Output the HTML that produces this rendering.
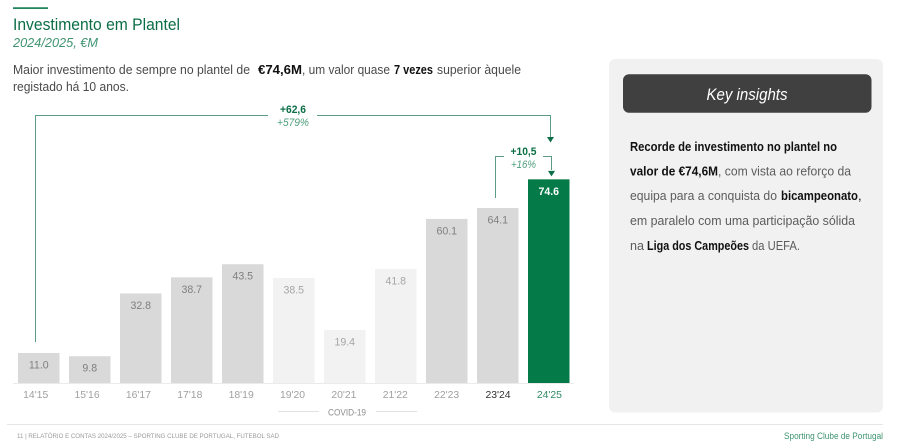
<!DOCTYPE html>
<html lang="pt">
<head>
<meta charset="utf-8">
<title>Investimento em Plantel</title>
<style>
html,body{margin:0;padding:0;background:#fff;}
body{width:900px;height:448px;overflow:hidden;position:relative;}
svg{display:block;position:absolute;left:0;top:0;font-family:"Liberation Sans",sans-serif;}
</style>
</head>
<body>
<svg id="page" width="900" height="448" viewBox="0 0 900 448">
  <rect x="13" y="7.300" width="35" height="1.600" fill="#0a7a4b"/>
  <text x="13" y="30" font-size="17" fill="#0b6e47" textLength="167" lengthAdjust="spacingAndGlyphs">Investimento em Plantel</text>
  <text x="13" y="47" font-size="13" font-style="italic" fill="#3f9470" textLength="85" lengthAdjust="spacingAndGlyphs">2024/2025, €M</text>

  <g font-size="13" fill="#4a4a4a">
    <text x="13" y="74" textLength="237" lengthAdjust="spacingAndGlyphs">Maior investimento de sempre no plantel de</text>
    <text x="258" y="74" font-weight="bold" fill="#111" textLength="44" lengthAdjust="spacingAndGlyphs">€74,6M</text>
    <text x="302" y="74" textLength="88" lengthAdjust="spacingAndGlyphs">, um valor quase</text>
    <text x="394" y="74" font-weight="bold" fill="#111" textLength="39" lengthAdjust="spacingAndGlyphs">7 vezes</text>
    <text x="437" y="74" textLength="84" lengthAdjust="spacingAndGlyphs">superior àquele</text>
    <text x="13" y="91" textLength="116" lengthAdjust="spacingAndGlyphs">registado há 10 anos.</text>
  </g>

  <g id="bars"></g>
  <g id="bar-values"></g>
  <g id="x-axis"></g>
  <g id="annotations"></g>

  <line x1="278" y1="411.500" x2="319" y2="411.500" stroke="#e2e2e2"/>
  <text x="347" y="415.500" font-size="9" fill="#8c8c8c" text-anchor="middle" textLength="38" lengthAdjust="spacingAndGlyphs">COVID-19</text>
  <line x1="376" y1="411.500" x2="417" y2="411.500" stroke="#e2e2e2"/>

  <rect x="609" y="59" width="274" height="353.500" rx="6" fill="#f1f1f1"/>
  <rect x="623" y="74.300" width="248.500" height="38.500" rx="6" fill="#404040"/>
  <text x="747" y="100" font-size="17" font-style="italic" fill="#fff" text-anchor="middle" textLength="81" lengthAdjust="spacingAndGlyphs">Key insights</text>

  <g font-size="13" fill="#5c5c5c">
    <text x="630" y="151" font-weight="bold" fill="#111" textLength="207" lengthAdjust="spacingAndGlyphs">Recorde de investimento no plantel no</text>
    <text x="630" y="175.500" font-weight="bold" fill="#111" textLength="88" lengthAdjust="spacingAndGlyphs">valor de €74,6M</text>
    <text x="718" y="175.500" textLength="133" lengthAdjust="spacingAndGlyphs">, com vista ao reforço da</text>
    <text x="630" y="200" textLength="147" lengthAdjust="spacingAndGlyphs">equipa para a conquista do</text>
    <text x="781" y="200" font-weight="bold" fill="#111" textLength="77" lengthAdjust="spacingAndGlyphs">bicampeonato</text>
    <text x="858" y="200" fill="#111">,</text>
    <text x="630" y="225" textLength="225" lengthAdjust="spacingAndGlyphs">em paralelo com uma participação sólida</text>
    <text x="630" y="250" textLength="14" lengthAdjust="spacingAndGlyphs">na</text>
    <text x="647" y="250" font-weight="bold" fill="#111" textLength="102" lengthAdjust="spacingAndGlyphs">Liga dos Campeões</text>
    <text x="752" y="250" textLength="48" lengthAdjust="spacingAndGlyphs">da UEFA.</text>
  </g>

  <line x1="7" y1="424.500" x2="883" y2="424.500" stroke="#e6e6e6"/>
  <text x="17" y="438" font-size="6.400" fill="#9a9a9a" textLength="262" lengthAdjust="spacingAndGlyphs">11 | RELATÓRIO E CONTAS 2024/2025 – SPORTING CLUBE DE PORTUGAL, FUTEBOL SAD</text>
  <text x="883" y="439" font-size="9" fill="#3f9470" text-anchor="end" textLength="99" lengthAdjust="spacingAndGlyphs">Sporting Clube de Portugal</text>
</svg>
<script>
const categories = ["14'15","15'16","16'17","17'18","18'19","19'20","20'21","21'22","22'23","23'24","24'25"];
const investment = [11.0,9.8,32.8,38.7,43.5,38.5,19.4,41.8,60.1,64.1,74.6];
const valueLabels = ["11.0","9.8","32.8","38.7","43.5","38.5","19.4","41.8","60.1","64.1","74.6"];
const covidSeasons = ["19'20","20'21","21'22"];
const previousSeason = "23'24";
const currentSeason = "24'25";
const longDeltaLabels = ["+62,6","+579%"];
const shortDeltaLabels = ["+10,5","+16%"];

const NS = 'http://www.w3.org/2000/svg';
const baseY = 383;
const pxPerUnit = 2.73;
const firstX = 18;
const pitch = 51;
const barW = 41.5;
function yScale(v){ return baseY - v * pxPerUnit; }
function xScale(i){ return firstX + i * pitch; }
function centerX(i){ return xScale(i) + barW / 2; }
function tickX(i){ return 35.7 + i * 51.37; }
function make(tag, attrs, parent, txt){
  const el = document.createElementNS(NS, tag);
  for (const k in attrs) el.setAttribute(k, attrs[k]);
  if (txt !== undefined) el.textContent = txt;
  parent.appendChild(el);
  return el;
}
const barsG = document.getElementById('bars');
const valuesG = document.getElementById('bar-values');
const axisG = document.getElementById('x-axis');
const annG = document.getElementById('annotations');

categories.forEach(function(cat, i){
  const isCovid = covidSeasons.includes(cat);
  const isCurrent = cat === currentSeason;
  const isPrev = cat === previousSeason;
  const top = yScale(investment[i]);
  const bar = make('rect', {x:xScale(i), y:top, width:barW, height:baseY-top,
    fill:isCurrent ? '#047a48' : (isCovid ? '#f2f2f2' : '#d9d9d9')}, barsG);
  
  

  const val = make('text', {x:centerX(i), y:top+15.5, 'font-size':10.6, 'text-anchor':'middle',
    fill:isCurrent ? '#ffffff' : (isCovid ? '#a6a6a6' : '#7f7f7f'),
    'font-weight':isCurrent ? 'bold' : 'normal'}, valuesG, valueLabels[i]);
  
  

  const tick = make('text', {x:tickX(i), y:398, 'font-size':10.4, 'text-anchor':'middle',
    fill:isCurrent ? '#2f8a63' : (isPrev ? '#333333' : '#a0a0a0')}, axisG, cat);
  
  
});

const axisLine = make('line', {x1:13, x2:574, y1:baseY+0.5, y2:baseY+0.5, stroke:'#ebebeb'}, axisG);



const lastIdx = categories.length - 1;
const prevIdx = categories.indexOf(previousSeason);
const lastTop = yScale(investment[lastIdx]);
const lineColor = '#5c9c85';

const longPath = make('path', {d:'M35.500 ' + (yScale(investment[0]) - 11) + ' V115.500 H268 M317 115.500 H550.500 V137',
  fill:'none', stroke:lineColor, 'stroke-width':1}, annG);


const longArrow = make('path', {d:'M547 137 H554 L550.500 142.500 Z', fill:'#0b6e47'}, annG);



const shortPath = make('path', {d:'M495.500 ' + (yScale(investment[prevIdx]) - 10) + ' V156.500 H504 M543 156.500 H551.500 V170',
  fill:'none', stroke:lineColor, 'stroke-width':1}, annG);


const shortArrow = make('path', {d:'M548 ' + (lastTop - 8.5) + ' H555 L551.500 ' + (lastTop - 3) + ' Z', fill:'#0b6e47'}, annG);



const l1 = make('text', {x:293, y:113, 'font-size':11.2, 'font-weight':'bold', fill:'#0b6e47', 'text-anchor':'middle', textLength:26, lengthAdjust:'spacingAndGlyphs'}, annG, longDeltaLabels[0]);


const l2 = make('text', {x:293, y:126, 'font-size':10.6, 'font-style':'italic', fill:'#4f9e7d', 'text-anchor':'middle', textLength:32, lengthAdjust:'spacingAndGlyphs'}, annG, longDeltaLabels[1]);


const s1 = make('text', {x:523.5, y:155, 'font-size':11.2, 'font-weight':'bold', fill:'#0b6e47', 'text-anchor':'middle', textLength:26, lengthAdjust:'spacingAndGlyphs'}, annG, shortDeltaLabels[0]);


const s2 = make('text', {x:523.5, y:168, 'font-size':10.6, 'font-style':'italic', fill:'#4f9e7d', 'text-anchor':'middle', textLength:25, lengthAdjust:'spacingAndGlyphs'}, annG, shortDeltaLabels[1]);


</script>
</body>
</html>
